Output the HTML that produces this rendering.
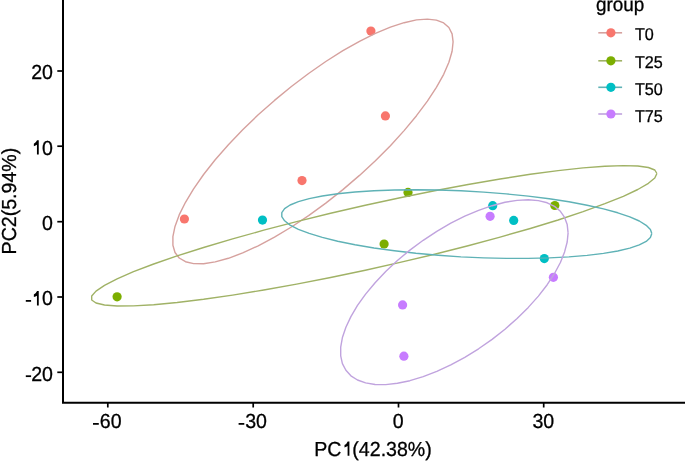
<!DOCTYPE html>
<html><head><meta charset="utf-8"><style>
html,body{margin:0;padding:0;background:#fff;}
body{width:685px;height:461px;overflow:hidden;}
svg{display:block;will-change:transform;}
text{font-family:"Liberation Sans",sans-serif;fill:#000;stroke:#000;stroke-width:0.3px;text-rendering:geometricPrecision;}
tspan[fill=transparent]{stroke:none;}
</style></head><body>
<svg width="685" height="461" viewBox="0 0 685 461">
<rect width="685" height="461" fill="#fff"/>
<circle cx="370.9" cy="31.1" r="4.6" fill="#F8766D"/>
<circle cx="385.4" cy="115.9" r="4.6" fill="#F8766D"/>
<circle cx="302.0" cy="180.6" r="4.6" fill="#F8766D"/>
<circle cx="184.4" cy="219.0" r="4.6" fill="#F8766D"/>
<circle cx="117.1" cy="296.8" r="4.6" fill="#7CAE00"/>
<circle cx="408.0" cy="192.4" r="4.6" fill="#7CAE00"/>
<circle cx="384.1" cy="244.0" r="4.6" fill="#7CAE00"/>
<circle cx="554.8" cy="205.5" r="4.6" fill="#7CAE00"/>
<circle cx="262.5" cy="220.1" r="4.6" fill="#00BFC4"/>
<circle cx="492.7" cy="205.7" r="4.6" fill="#00BFC4"/>
<circle cx="513.7" cy="220.4" r="4.6" fill="#00BFC4"/>
<circle cx="544.3" cy="258.6" r="4.6" fill="#00BFC4"/>
<circle cx="490.1" cy="216.3" r="4.6" fill="#C77CFF"/>
<circle cx="402.6" cy="304.9" r="4.6" fill="#C77CFF"/>
<circle cx="403.9" cy="356.2" r="4.6" fill="#C77CFF"/>
<circle cx="553.4" cy="277.3" r="4.6" fill="#C77CFF"/>
<polyline points="453.1,41.8 452.1,51.3 448.9,62.2 443.7,74.3 436.4,87.3 427.4,101.2 416.5,115.7 404.1,130.6 390.4,145.7 375.4,160.7 359.5,175.4 342.9,189.6 325.8,203.1 308.6,215.6 291.4,227.0 274.5,237.1 258.2,245.8 242.7,252.9 228.4,258.3 215.2,261.9 203.6,263.7 193.6,263.6 185.5,261.7 179.2,258.0 175.0,252.5 172.9,245.3 172.9,236.6 175.0,226.4 179.2,214.9 185.5,202.3 193.6,188.8 203.6,174.5 215.2,159.8 228.4,144.8 242.7,129.7 258.2,114.8 274.5,100.4 291.4,86.5 308.6,73.5 325.8,61.5 342.9,50.7 359.5,41.3 375.4,33.4 390.4,27.2 404.1,22.7 416.5,19.9 427.4,19.1 436.4,20.1 443.7,22.9 448.9,27.5 452.1,33.9 453.1,41.8" fill="none" stroke="#d6a19e" stroke-width="1.4" stroke-linejoin="round"/>
<polyline points="656.9,173.5 654.8,178.0 648.4,183.3 637.8,189.5 623.3,196.3 604.9,203.7 583.1,211.7 558.1,220.0 530.3,228.5 500.1,237.1 468.1,245.8 434.6,254.2 400.1,262.4 365.3,270.2 330.6,277.5 296.6,284.1 263.8,290.0 232.6,295.1 203.6,299.3 177.1,302.5 153.7,304.7 133.5,305.9 117.1,306.0 104.5,305.0 96.0,303.0 91.7,300.0 91.7,296.0 96.0,291.1 104.5,285.4 117.1,278.9 133.5,271.7 153.7,264.0 177.1,255.9 203.6,247.5 232.6,238.9 263.8,230.2 296.6,221.6 330.6,213.3 365.3,205.3 400.1,197.7 434.6,190.8 468.1,184.5 500.1,179.0 530.3,174.3 558.1,170.6 583.1,167.9 604.9,166.2 623.3,165.6 637.8,166.0 648.4,167.5 654.8,170.0 656.9,173.5" fill="none" stroke="#a0b266" stroke-width="1.4" stroke-linejoin="round"/>
<polyline points="651.8,233.6 650.4,237.6 646.2,241.4 639.3,244.9 629.8,248.1 617.8,251.0 603.5,253.4 587.1,255.4 568.9,256.9 549.2,257.9 528.2,258.4 506.2,258.4 483.7,257.9 460.9,256.9 438.2,255.3 415.9,253.3 394.4,250.8 374.0,248.0 355.0,244.8 337.7,241.2 322.3,237.4 309.2,233.4 298.4,229.3 290.1,225.1 284.6,220.8 281.8,216.7 281.8,212.6 284.6,208.7 290.1,205.0 298.4,201.7 309.2,198.6 322.3,196.0 337.7,193.8 355.0,192.0 374.0,190.7 394.4,190.0 415.9,189.7 438.2,190.0 460.9,190.8 483.7,192.1 506.2,193.9 528.2,196.1 549.2,198.8 568.9,201.8 587.1,205.2 603.5,208.9 617.8,212.8 629.8,216.8 639.3,221.0 646.2,225.3 650.4,229.5 651.8,233.6" fill="none" stroke="#5fb2b6" stroke-width="1.4" stroke-linejoin="round"/>
<polyline points="568.1,232.9 567.2,242.0 564.6,251.9 560.4,262.5 554.5,273.5 547.2,284.7 538.4,296.1 528.3,307.4 517.1,318.5 505.0,329.2 492.1,339.4 478.6,348.8 464.8,357.3 450.8,364.9 436.8,371.4 423.2,376.7 409.9,380.7 397.4,383.3 385.7,384.6 375.1,384.5 365.6,382.9 357.5,380.0 350.9,375.8 345.9,370.3 342.4,363.6 340.7,355.9 340.7,347.1 342.4,337.6 345.9,327.3 350.9,316.6 357.5,305.4 365.6,294.1 375.1,282.7 385.7,271.5 397.4,260.5 409.9,250.1 423.2,240.3 436.8,231.3 450.8,223.2 464.8,216.2 478.6,210.3 492.1,205.7 505.0,202.3 517.1,200.4 528.3,199.8 538.4,200.6 547.2,202.8 554.5,206.4 560.4,211.3 564.6,217.4 567.2,224.6 568.1,232.9" fill="none" stroke="#c0a3de" stroke-width="1.4" stroke-linejoin="round"/>
<path d="M63,0 V402.8 H685" fill="none" stroke="#000" stroke-width="2.0"/>
<line x1="57.3" y1="71.0" x2="63" y2="71.0" stroke="#000" stroke-width="1.7"/>
<text transform="translate(53.0,79.4) scale(0.965,1)" font-size="20.3" text-anchor="end">20</text>
<line x1="57.3" y1="146.2" x2="63" y2="146.2" stroke="#000" stroke-width="1.7"/>
<text transform="translate(53.0,154.6) scale(0.965,1)" font-size="20.3" text-anchor="end"><tspan fill="transparent">1</tspan>0</text>
<path d="M38.75,140.15 L38.75,154.60 L36.95,154.60 L36.95,144.85 Q35.65,145.65 33.85,146.25 L33.85,143.75 Q36.05,142.65 37.05,140.15 Z" fill="#000"/>
<line x1="57.3" y1="221.7" x2="63" y2="221.7" stroke="#000" stroke-width="1.7"/>
<text transform="translate(53.0,230.1) scale(0.965,1)" font-size="20.3" text-anchor="end">0</text>
<line x1="57.3" y1="297.0" x2="63" y2="297.0" stroke="#000" stroke-width="1.7"/>
<text transform="translate(53.0,305.4) scale(0.965,1)" font-size="20.3" text-anchor="end"><tspan fill="transparent">-</tspan><tspan fill="transparent">1</tspan>0</text>
<path d="M38.75,290.95 L38.75,305.40 L36.95,305.40 L36.95,295.65 Q35.65,296.45 33.85,297.05 L33.85,294.55 Q36.05,293.45 37.05,290.95 Z" fill="#000"/>
<rect x="25.80" y="300.02" width="5.30" height="1.75" fill="#000"/>
<line x1="57.3" y1="372.3" x2="63" y2="372.3" stroke="#000" stroke-width="1.7"/>
<text transform="translate(53.0,380.7) scale(0.965,1)" font-size="20.3" text-anchor="end"><tspan fill="transparent">-</tspan>20</text>
<rect x="25.80" y="375.32" width="5.30" height="1.75" fill="#000"/>
<line x1="107.8" y1="402.8" x2="107.8" y2="407.5" stroke="#000" stroke-width="1.7"/>
<text transform="translate(107.4,428.4) scale(0.965,1)" font-size="20.3" text-anchor="middle"><tspan fill="transparent">-</tspan>60</text>
<rect x="93.00" y="423.02" width="5.80" height="1.75" fill="#000"/>
<line x1="253.2" y1="402.8" x2="253.2" y2="407.5" stroke="#000" stroke-width="1.7"/>
<text transform="translate(252.8,428.4) scale(0.965,1)" font-size="20.3" text-anchor="middle"><tspan fill="transparent">-</tspan>30</text>
<rect x="238.60" y="423.02" width="5.70" height="1.75" fill="#000"/>
<line x1="398.5" y1="402.8" x2="398.5" y2="407.5" stroke="#000" stroke-width="1.7"/>
<text transform="translate(398.1,428.4) scale(0.965,1)" font-size="20.3" text-anchor="middle">0</text>
<line x1="543.7" y1="402.8" x2="543.7" y2="407.5" stroke="#000" stroke-width="1.7"/>
<text transform="translate(543.3,428.4) scale(0.965,1)" font-size="20.3" text-anchor="middle">30</text>
<text transform="translate(373,455.7) scale(0.965,1)" font-size="20.3" text-anchor="middle">PC<tspan fill="transparent">1</tspan>(42.38%)</text>
<path d="M349.40,441.40 L349.40,455.70 L347.60,455.70 L347.60,446.10 Q346.30,446.90 344.50,447.50 L344.50,445.00 Q346.70,443.90 347.70,441.40 Z" fill="#000"/>
<text transform="translate(16,201.1) rotate(-90) scale(0.965,1)" font-size="20.3" text-anchor="middle">PC2(5.94%)</text>
<text transform="translate(596,11.2) scale(0.965,1)" font-size="19.6">group</text>
<line x1="598.3" y1="32.8" x2="622.1" y2="32.8" stroke="#d6a19e" stroke-width="1.6"/>
<circle cx="610.9" cy="32.8" r="4.6" fill="#F8766D"/>
<text transform="translate(635,40.4) scale(0.95,1)" font-size="17">T0</text>
<line x1="598.3" y1="60.8" x2="622.1" y2="60.8" stroke="#a0b266" stroke-width="1.6"/>
<circle cx="610.9" cy="60.8" r="4.6" fill="#7CAE00"/>
<text transform="translate(635,68.4) scale(0.95,1)" font-size="17">T25</text>
<line x1="598.3" y1="87.3" x2="622.1" y2="87.3" stroke="#5fb2b6" stroke-width="1.6"/>
<circle cx="610.9" cy="87.3" r="4.6" fill="#00BFC4"/>
<text transform="translate(635,94.9) scale(0.95,1)" font-size="17">T50</text>
<line x1="598.3" y1="114.0" x2="622.1" y2="114.0" stroke="#c0a3de" stroke-width="1.6"/>
<circle cx="610.9" cy="114.0" r="4.6" fill="#C77CFF"/>
<text transform="translate(635,121.6) scale(0.95,1)" font-size="17">T75</text>
</svg>
</body></html>
